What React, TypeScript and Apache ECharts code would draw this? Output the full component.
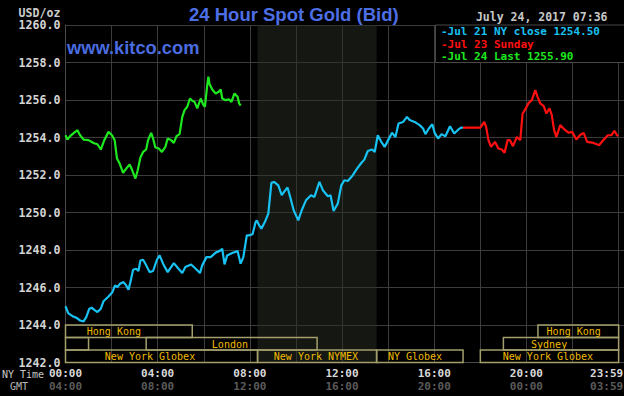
import React, { useEffect, useRef } from "react";
import * as echarts from "echarts";

// ---- data (minutes since 00:00 NY time, USD/oz) ----
const cyanTimes = [0,7,20,29,38,47,54,62,68,77,83,92,99,112,122,129,135,142,151,158,164,170,176,184,190,195,202,208,219,228,238,245,254,266,282,292,304,312,327,339,350,356,367,378,391,404,408,414,421,434,448,456,463,472,478,487,495,498,504,510,519,528,536,543,554,563,569,578,585,594,606,615,626,639,648,661,670,683,690,698,709,718,726,735,748,759,770,778,787,798,805,813,822,831,840,850,859,867,879,889,896,909,922,931,937,946,955,961,970,979,989,1001,1012,1023,1031,1035];
const cyanValues = [1245.0,1244.63,1244.45,1244.38,1244.24,1244.19,1244.42,1244.87,1244.92,1244.78,1244.69,1244.87,1245.27,1245.52,1245.75,1246.11,1246.02,1246.20,1246.29,1246.11,1245.88,1246.38,1246.95,1247.00,1246.88,1247.44,1247.48,1247.27,1246.82,1246.88,1247.48,1247.71,1247.27,1246.82,1247.30,1247.05,1246.77,1247.09,1247.23,1247.00,1246.77,1247.18,1247.62,1247.62,1247.86,1247.98,1248.07,1247.23,1247.71,1247.84,1247.94,1247.27,1247.62,1248.78,1248.78,1248.84,1249.49,1249.58,1249.32,1249.14,1249.49,1249.94,1251.58,1251.63,1251.45,1250.92,1251.10,1251.33,1250.83,1250.12,1249.58,1250.12,1250.65,1250.92,1250.83,1251.63,1251.19,1250.87,1250.92,1250.08,1250.48,1251.45,1251.72,1251.68,1251.99,1252.34,1252.64,1252.82,1253.28,1253.36,1253.23,1254.12,1253.77,1253.50,1253.86,1254.25,1254.03,1254.75,1254.83,1255.10,1254.93,1254.83,1254.66,1254.48,1254.18,1254.48,1254.71,1254.25,1253.95,1254.18,1254.07,1254.60,1254.21,1254.43,1254.54,1254.50];

const redTimes = [1035,1080,1090,1095,1101,1108,1118,1127,1136,1143,1151,1157,1165,1175,1184,1190,1197,1206,1214,1223,1229,1236,1245,1252,1260,1266,1272,1278,1288,1299,1310,1319,1330,1339,1349,1358,1375,1389,1400,1412,1421,1429,1436,1439];
const redValues = [1254.53,1254.53,1254.83,1254.57,1253.86,1253.50,1253.77,1253.41,1253.36,1253.18,1253.86,1253.86,1253.54,1254.03,1253.86,1255.28,1255.50,1255.85,1255.99,1256.53,1256.17,1255.82,1255.67,1255.28,1255.55,1255.19,1254.39,1254.03,1254.66,1254.43,1254.25,1254.30,1253.89,1254.12,1254.25,1253.77,1253.71,1253.59,1253.86,1254.12,1254.12,1254.35,1254.12,1254.07];

const greenTimes = [0,5,12,22,31,38,47,60,73,83,92,101,112,121,128,134,141,150,158,167,173,182,188,195,202,210,215,223,228,234,243,251,260,266,275,282,289,297,304,310,317,324,330,336,343,352,359,363,369,372,375,382,391,399,404,408,417,426,432,440,448,452,456];
const greenValues = [1254.12,1253.89,1254.07,1254.25,1254.39,1254.12,1253.89,1253.86,1253.71,1253.64,1253.36,1253.86,1254.30,1254.12,1253.86,1252.88,1252.61,1252.11,1252.34,1252.56,1252.29,1251.81,1252.25,1252.93,1253.23,1253.36,1253.86,1254.25,1253.95,1253.47,1253.41,1253.23,1253.50,1253.95,1253.86,1253.71,1254.07,1254.18,1255.10,1255.46,1255.64,1256.08,1255.96,1255.90,1255.55,1256.08,1255.73,1255.64,1256.79,1257.24,1256.85,1256.56,1256.35,1256.44,1256.56,1256.08,1255.99,1256.03,1255.90,1256.35,1256.17,1255.82,1255.70];

const seriesNames = ["Jul 21 NY close 1254.50", "Jul 23 Sunday", "Jul 24 Last 1255.90"];
const seriesColors = ["#18c2f2", "#ff1010", "#1ee81e"];

const nyTickLabels = ["00:00", "04:00", "08:00", "12:00", "16:00", "20:00", "23:59"];
const gmtTickLabels = ["04:00", "08:00", "12:00", "16:00", "20:00", "00:00", "03:59"];

// trading sessions: start/end minutes, row (0 top .. 2 bottom), label position
const sessionNames = ["Hong Kong", "", "London", "Sydney", "Hong Kong", "New York Globex", "New York NYMEX", "NY Globex", "New York Globex"];
const sessionStart = [0, 0, 210, 1140, 1230, 0, 500, 810, 1080];
const sessionEnd = [330, 60, 655, 1440, 1440, 500, 810, 1035, 1440];
const sessionRow = [0, 1, 1, 1, 0, 2, 2, 2, 2];
const sessionLabelAt = [126, 30, 428, 1259, 1323, 220, 652, 910, 1256];

const nymexShade = [500, 810];

const MONO = '"DejaVu Sans Mono", "Liberation Mono", monospace';
const SANS = '"Liberation Sans", Arial, sans-serif';

export default function App() {
  const ref = useRef<HTMLDivElement>(null);

  useEffect(() => {
    document.body.style.margin = "0";
    document.body.style.background = "#000";
    if (!ref.current) return;
    const chart = echarts.init(ref.current, undefined, { renderer: "svg" });

    const toPairs = (t: number[], v: number[]) => t.map((x, i) => [x, v[i]]);

    const lineSeries = (i: number, t: number[], v: number[], extra: any = {}) => ({
      name: seriesNames[i],
      type: "line",
      data: toPairs(t, v),
      showSymbol: false,
      symbol: "none",
      lineStyle: { color: seriesColors[i], width: 2.2 },
      itemStyle: { color: seriesColors[i] },
      z: 3 + i,
      silent: true,
      ...extra,
    });

    const rowH = 2 / 3;

    const option: any = {
      animation: false,
      backgroundColor: "#000",
      grid: { left: 65.5, top: 25, width: 558.5, height: 337.5, containLabel: false, outerBoundsMode: "none" },
      xAxis: {
        type: "value",
        min: 0,
        max: 1454,
        interval: 120,
        axisLine: { show: true, lineStyle: { color: "#4a4a4a", width: 1 } },
        axisTick: { show: false },
        splitLine: { show: true, lineStyle: { color: "#3c3c3c", width: 1 } },
        axisLabel: {
          show: true,
          margin: 4,
          showMinLabel: true,
          showMaxLabel: false,
          formatter: (v: number) => {
            if (v % 240 !== 0) return "";
            const i = Math.round(v / 240);
            if (i >= nyTickLabels.length) return "";
            if (i === nyTickLabels.length - 1) return `{c|${nyTickLabels[i]}}\n{d|${gmtTickLabels[i]}}`;
            return `{a|${nyTickLabels[i]}}\n{b|${gmtTickLabels[i]}}`;
          },
          rich: {
            a: { color: "#d8d8d8", fontFamily: MONO, fontWeight: "bold", fontSize: 11, lineHeight: 13.5 },
            b: { color: "#5a5a5a", fontFamily: MONO, fontWeight: "bold", fontSize: 11, lineHeight: 13.5 },
            c: { color: "#d8d8d8", fontFamily: MONO, fontWeight: "bold", fontSize: 11, lineHeight: 13.5, padding: [0, 24, 0, 0] },
            d: { color: "#5a5a5a", fontFamily: MONO, fontWeight: "bold", fontSize: 11, lineHeight: 13.5, padding: [0, 24, 0, 0] },
          },
        },
      },
      yAxis: {
        type: "value",
        min: 1242,
        max: 1260,
        interval: 2,
        axisLine: { show: true, lineStyle: { color: "#4a4a4a", width: 1 } },
        axisTick: { show: false },
        splitLine: { show: true, lineStyle: { color: "#3c3c3c", width: 1 } },
        axisLabel: {
          margin: 5,
          color: "#d4d4d4",
          fontFamily: MONO,
          fontWeight: "bold",
          fontSize: 11.6,
          formatter: (v: number) => v.toFixed(1),
        },
      },
      series: [
        lineSeries(0, cyanTimes, cyanValues, {
          markArea: {
            silent: true,
            itemStyle: { color: "rgba(40,46,36,0.5)" },
            data: [[{ xAxis: nymexShade[0] }, { xAxis: nymexShade[1] }]],
          },
        }),
        lineSeries(1, redTimes, redValues),
        lineSeries(2, greenTimes, greenValues),
        {
          type: "custom",
          silent: true,
          z: 10,
          clip: false,
          data: sessionNames.map((_, i) => [sessionStart[i], sessionEnd[i], sessionRow[i], sessionLabelAt[i]]),
          renderItem: (params: any, api: any) => {
            const s = api.value(0);
            const e = api.value(1);
            const row = api.value(2);
            const la = api.value(3);
            const top = 1244 - row * rowH;
            const bottom = top - rowH;
            const p1 = api.coord([s, top]);
            const p2 = api.coord([e, bottom]);
            const pl = api.coord([la, (top + bottom) / 2]);
            const name = sessionNames[params.dataIndex];
            return {
              type: "group",
              children: [
                {
                  type: "rect",
                  shape: { x: p1[0], y: p1[1], width: p2[0] - p1[0], height: p2[1] - p1[1] },
                  style: { fill: "none", stroke: "#a49e6c", lineWidth: 1.5 },
                },
                {
                  type: "text",
                  x: pl[0],
                  y: pl[1] + 0.5,
                  style: {
                    text: name,
                    fill: "#eebb00",
                    fontFamily: MONO,
                    fontSize: 10,
                    align: "center",
                    verticalAlign: "middle",
                    textAlign: "center",
                    textVerticalAlign: "middle",
                  },
                },
              ],
            };
          },
        },
      ],
      graphic: [
        {
          type: "text", x: 189, y: 14, z: 100,
          style: { text: "24 Hour Spot Gold (Bid)", fill: "#4d6fe6", font: `bold 18.5px ${SANS}`, textVerticalAlign: "middle", verticalAlign: "middle" },
        },
        {
          type: "text", x: 67, y: 47, z: 100,
          style: { text: "www.kitco.com", fill: "#4a6ce0", font: `bold 18.3px ${SANS}`, textVerticalAlign: "middle", verticalAlign: "middle" },
        },
        {
          type: "text", x: 60.5, y: 12.5, z: 100,
          style: { text: "USD/oz", fill: "#cccccc", font: `bold 11.6px ${MONO}`, textAlign: "right", align: "right", textVerticalAlign: "middle", verticalAlign: "middle" },
        },
        {
          type: "text", x: 607.5, y: 17, z: 100,
          style: { text: "July 24, 2017 07:36", fill: "#c8c8c8", font: `bold 11.5px ${MONO}`, textAlign: "right", align: "right", textVerticalAlign: "middle", verticalAlign: "middle" },
        },
        {
          type: "rect", z: 90,
          shape: { x: 435.5, y: 25, width: 200, height: 37.5 },
          style: { fill: "#000", stroke: "#484848", lineWidth: 1 },
        },
        ...seriesNames.map((n, i) => ({
          type: "text", x: 441, y: [31.6, 44.2, 56.8][i], z: 100,
          style: { text: "-" + n, fill: seriesColors[i], font: `bold 11px ${MONO}`, textVerticalAlign: "middle", verticalAlign: "middle" },
        })),
        {
          type: "text", x: 2, y: 374, z: 100,
          style: { text: "NY Time", fill: "#c8c8c8", font: `10px ${MONO}`, textVerticalAlign: "middle", verticalAlign: "middle" },
        },
        {
          type: "text", x: 10, y: 386.5, z: 100,
          style: { text: "GMT", fill: "#b8b8b8", font: `10px ${MONO}`, textVerticalAlign: "middle", verticalAlign: "middle" },
        },
      ],
    };

    chart.setOption(option);
    return () => chart.dispose();
  }, []);

  return <div ref={ref} style={{ width: 624, height: 396, background: "#000" }} />;
}
